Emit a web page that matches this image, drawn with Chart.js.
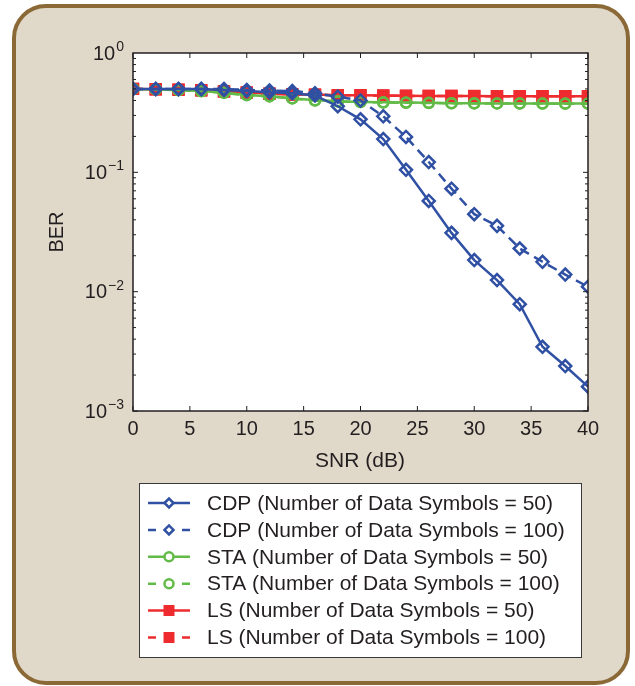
<!DOCTYPE html>
<html>
<head>
<meta charset="utf-8">
<script src="https://cdn.jsdelivr.net/npm/chart.js@4.4.1/dist/chart.umd.min.js"></script>
<style>
  html, body { margin: 0; padding: 0; background: #ffffff; }
  canvas { display: block; }
</style>
</head>
<body>
<canvas id="berChart" width="635" height="686"></canvas>
<script>
// SNR axis (dB)
var snr = [0,2,4,6,8,10,12,14,16,18,20,22,24,26,28,30,32,34,36,38,40];
var xTicks = [0,5,10,15,20,25,30,35,40];
var yTicks = [1, 0.1, 0.01, 0.001];
var yTickExp = ['0', '\u22121', '\u22122', '\u22123'];

// BER curves
var cdp50  = [0.50,0.50,0.50,0.50,0.49,0.48,0.47,0.46,0.44,0.358,0.278,0.19,0.105,0.0576,0.0311,0.0184,0.0125,0.00785,0.00345,0.00238,0.0016];
var cdp100 = [0.50,0.50,0.50,0.50,0.50,0.49,0.485,0.48,0.46,0.43,0.40,0.295,0.198,0.122,0.073,0.0446,0.0356,0.023,0.0178,0.0139,0.011];
var sta50  = [0.50,0.495,0.49,0.48,0.465,0.445,0.435,0.418,0.402,0.394,0.389,0.386,0.384,0.382,0.380,0.379,0.378,0.378,0.377,0.377,0.377];
var sta100 = [0.50,0.495,0.488,0.478,0.463,0.443,0.433,0.416,0.400,0.393,0.388,0.385,0.383,0.381,0.379,0.378,0.378,0.377,0.377,0.376,0.376];
var ls50   = [0.50,0.497,0.493,0.487,0.477,0.466,0.457,0.450,0.448,0.443,0.442,0.440,0.438,0.437,0.436,0.436,0.435,0.435,0.435,0.434,0.434];
var ls100  = [0.50,0.497,0.492,0.486,0.476,0.465,0.456,0.449,0.447,0.443,0.441,0.439,0.437,0.436,0.436,0.435,0.435,0.434,0.434,0.434,0.433];

var labels = [
  'CDP (Number of Data Symbols = 50)',
  'CDP (Number of Data Symbols = 100)',
  'STA (Number of Data Symbols = 50)',
  'STA (Number of Data Symbols = 100)',
  'LS (Number of Data Symbols = 50)',
  'LS (Number of Data Symbols = 100)'
];

var blue = '#3050a3';
var green = '#62bb47';
var red = '#ee2b2e';
var ink = '#231f20';
var FONT = '"Liberation Sans", Arial, Helvetica, sans-serif';

function pts(arr) {
  return arr.map(function (v, i) { return { x: snr[i], y: v }; });
}

function series(label, arr, color, style, radius, dashed, fill) {
  return {
    label: label,
    data: pts(arr),
    borderColor: color,
    borderWidth: 2.5,
    borderDash: dashed ? [10, 6] : [],
    pointStyle: style,
    pointRadius: radius,
    pointBorderColor: color,
    pointBackgroundColor: fill || 'rgba(255,255,255,0)',
    pointBorderWidth: 2.5,
    tension: 0
  };
}

// page background + rounded frame
const backdrop = {
  id: 'backdrop',
  beforeDraw(chart) {
    const c = chart.ctx;
    const a = chart.chartArea;
    c.save();
    c.fillStyle = '#ffffff';
    c.fillRect(0, 0, chart.width, chart.height);
    c.beginPath();
    c.roundRect(14, 6, 614, 677, 32);
    c.fillStyle = '#e0d8c9';
    c.fill();
    c.lineWidth = 4;
    c.strokeStyle = '#8b6937';
    c.stroke();
    c.fillStyle = '#ffffff';
    c.fillRect(a.left, a.top, a.right - a.left, a.bottom - a.top);
    c.restore();
  }
};

// axes box, inward ticks, labels, legend
const axesDecor = {
  id: 'axesDecor',
  afterDraw(chart) {
    const c = chart.ctx;
    const a = chart.chartArea;
    const xs = chart.scales.x;
    const ys = chart.scales.y;
    c.save();
    c.strokeStyle = ink;
    c.lineWidth = 1.5;
    c.strokeRect(a.left, a.top, a.right - a.left, a.bottom - a.top);

    c.lineWidth = 1;
    c.beginPath();
    xTicks.forEach(function (t) {
      const px = xs.getPixelForValue(t);
      c.moveTo(px, a.bottom); c.lineTo(px, a.bottom - 5);
      c.moveTo(px, a.top); c.lineTo(px, a.top + 5);
    });
    for (let e = -3; e < 0; e++) {
      for (let m = 1; m < 10; m++) {
        const v = m * Math.pow(10, e);
        const py = ys.getPixelForValue(v);
        const len = m === 1 ? 5 : 3;
        c.moveTo(a.left, py); c.lineTo(a.left + len, py);
        c.moveTo(a.right, py); c.lineTo(a.right - len, py);
      }
    }
    c.stroke();

    c.fillStyle = ink;
    c.font = '20px ' + FONT;
    c.textAlign = 'center';
    c.textBaseline = 'middle';
    xTicks.forEach(function (t) {
      c.fillText(String(t), xs.getPixelForValue(t), 429);
    });
    c.font = '21px ' + FONT;
    c.fillText('SNR (dB)', 360, 461);

    yTicks.forEach(function (v, i) {
      const py = ys.getPixelForValue(v);
      c.font = '14px ' + FONT;
      c.textAlign = 'right';
      c.textBaseline = 'alphabetic';
      const w = c.measureText(yTickExp[i]).width;
      c.fillText(yTickExp[i], 124, py - 2);
      c.font = '20px ' + FONT;
      c.textBaseline = 'middle';
      c.fillText('10', 124 - w - 1, py + 1);
    });

    c.save();
    c.translate(57, 232);
    c.rotate(-Math.PI / 2);
    c.font = '20px ' + FONT;
    c.textAlign = 'center';
    c.textBaseline = 'middle';
    c.fillText('BER', 0, 0);
    c.restore();

    // legend box
    c.fillStyle = '#ffffff';
    c.fillRect(139, 483, 442, 174);
    c.strokeStyle = '#3a3a3a';
    c.lineWidth = 1;
    c.strokeRect(139.5, 483.5, 442, 174);

    chart.data.datasets.forEach(function (ds, i) {
      const y = 503 + i * 26.9;
      c.strokeStyle = ds.borderColor;
      c.lineWidth = 2.5;
      c.beginPath();
      if (ds.borderDash.length) {
        c.moveTo(148, y); c.lineTo(156, y);
        c.moveTo(182, y); c.lineTo(190, y);
      } else {
        c.moveTo(148, y); c.lineTo(190, y);
      }
      c.stroke();
      c.fillStyle = ds.pointStyle === 'rect' ? ds.borderColor : '#ffffff';
      c.strokeStyle = ds.borderColor;
      c.lineWidth = 2.5;
      Chart.helpers.drawPoint(c, {
        pointStyle: ds.pointStyle,
        radius: ds.pointStyle === 'rect' ? 6 : 4.5,
        rotation: 0,
        borderWidth: 2.5
      }, 169, y);
      c.fillStyle = ink;
      c.font = '21px ' + FONT;
      c.textAlign = 'left';
      c.textBaseline = 'middle';
      c.fillText(ds.label, 207, y + 1);
    });
    c.restore();
  }
};

const ctx = document.getElementById('berChart');
new Chart(ctx, {
  type: 'line',
  data: {
    datasets: [
      series(labels[0], cdp50, blue, 'rectRot', 6, false),
      series(labels[1], cdp100, blue, 'rectRot', 6, true),
      series(labels[2], sta50, green, 'circle', 5, false),
      series(labels[3], sta100, green, 'circle', 5, true),
      series(labels[4], ls50, red, 'rect', 7, false, red),
      series(labels[5], ls100, red, 'rect', 7, true, red)
    ]
  },
  options: {
    responsive: false,
    animation: false,
    layout: { padding: { left: 133, right: 47, top: 53, bottom: 275 } },
    plugins: { legend: { display: false }, tooltip: { enabled: false } },
    scales: {
      x: { type: 'linear', min: 0, max: 40, display: false },
      y: { type: 'logarithmic', min: 0.001, max: 1, display: false }
    }
  },
  plugins: [backdrop, axesDecor]
});
</script>
</body>
</html>
